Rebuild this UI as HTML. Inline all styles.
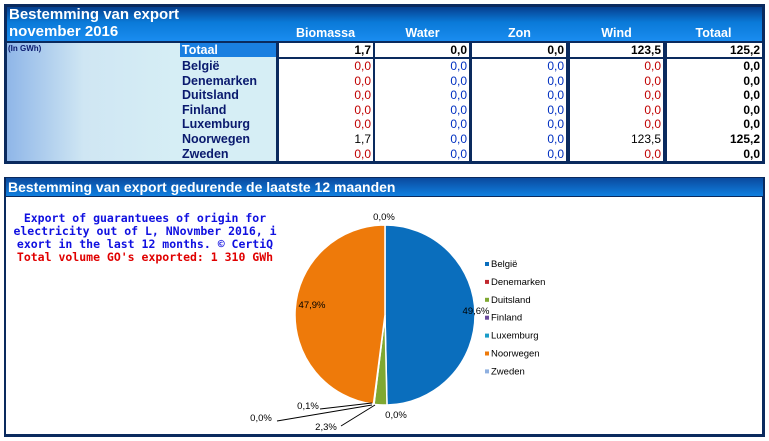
<!DOCTYPE html>
<html><head><meta charset="utf-8"><style>
body{margin:0;width:769px;height:441px;background:#fff;position:relative;overflow:hidden;font-family:"Liberation Sans",Arial,sans-serif}
.abs{position:absolute}
.hdr{color:#fff;font-weight:bold}
.cell{position:absolute;text-align:right;font-size:12px;line-height:14.6px;height:14.6px;box-sizing:border-box;padding-right:2px}
.cn{position:absolute;left:182px;font-size:12.5px;font-weight:bold;color:#0a1a6e;line-height:14.6px}
</style></head><body>
<div class="abs" style="left:4px;top:4px;width:761px;height:160px;background:#0a2a5e"></div>
<div class="abs" style="left:7px;top:7px;width:755px;height:34px;background:linear-gradient(#063f8e,#0a7ad8 45%,#1a8cf0)"></div>
<div class="abs hdr" style="left:9px;top:6px;font-size:15px;line-height:17px">Bestemming van export<br>november 2016</div>
<div class="abs hdr" style="left:277px;width:97px;top:26px;text-align:center;font-size:12.5px">Biomassa</div>
<div class="abs hdr" style="left:374px;width:97px;top:26px;text-align:center;font-size:12.5px">Water</div>
<div class="abs hdr" style="left:471px;width:97px;top:26px;text-align:center;font-size:12.5px">Zon</div>
<div class="abs hdr" style="left:568px;width:97px;top:26px;text-align:center;font-size:12.5px">Wind</div>
<div class="abs hdr" style="left:665px;width:97px;top:26px;text-align:center;font-size:12.5px">Totaal</div>
<div class="abs" style="left:7px;top:43px;width:170px;height:118px;background:linear-gradient(90deg,#8fb6e8,#cfe6f3 45%,#d6eef5)"></div>
<div class="abs" style="left:8px;top:44px;font-size:8px;font-weight:bold;color:#0a1a6e">(In GWh)</div>
<div class="abs" style="left:177px;top:43px;width:99px;height:118px;background:#d6eef5"></div>
<div class="abs" style="left:180px;top:43px;width:96px;height:14px;background:#1a7fe0"></div>
<div class="abs hdr" style="left:182px;top:43px;font-size:12.5px;line-height:14px">Totaal</div>
<div id="tbl"></div>
<div class="abs" style="left:4px;top:177px;width:761px;height:260px;background:#0a2a5e"></div>
<div class="abs" style="left:6px;top:178px;width:757px;height:18px;background:linear-gradient(#0a4a9e,#1080e0)"></div>
<div class="abs hdr" style="left:8px;top:179px;font-size:14px;line-height:16px">Bestemming van export gedurende de laatste 12 maanden</div>
<div class="abs" style="left:6px;top:197px;width:756px;height:237px;background:#fff"></div>
<div class="abs" style="left:10px;top:212px;width:270px;text-align:center;font-family:'DejaVu Sans Mono','Liberation Mono',monospace;font-weight:bold;font-size:11.5px;line-height:13px;color:#1010e0">Export of guarantuees of origin for electricity out of L, NNovmber 2016, i exort in the last 12 months. © CertiQ<br><span style="color:#e00000">Total volume GO's exported: 1 310 GWh</span></div>
<svg id="pie" class="abs" style="left:0;top:0" width="769" height="441"></svg>
<script>
const countries=["België","Denemarken","Duitsland","Finland","Luxemburg","Noorwegen","Zweden"];
const biomassa=[0,0,0,0,0,1.7,0];
const water=[0,0,0,0,0,0,0];
const zon=[0,0,0,0,0,0,0];
const wind=[0,0,0,0,0,123.5,0];
const totals=[1.7,0,0,123.5,125.2];
const shares=[49.6,0,2.3,0,0.1,47.9,0];
const colors=["#0a6ebd","#c0282e","#7fa832","#6a4a9c","#1a9cc8","#ee7a0a","#8fb0e0"];
const fmt=v=>v.toFixed(1).replace('.',',');
const tbl=document.getElementById('tbl');
const colX=[279,375,472,570,667],colW=[94,94,94,93,95];
const mk=(x,y,w,txt,style,name)=>{const d=document.createElement('div');d.className='cell';d.style.cssText=`left:${x}px;top:${y}px;width:${w}px;${style}`;d.textContent=txt;


tbl.appendChild(d);};
totals.forEach((v,i)=>mk(colX[i],43,colW[i],fmt(v),'background:#fff;font-weight:bold;color:#000;height:14px;line-height:14px','total-'+i));
colX.forEach((x,i)=>mk(x,59,colW[i],'','background:#fff;height:102px','col-bg-'+i));
countries.forEach((c,r)=>{const y=59+r*14.6;
const n=document.createElement('div');n.className='cn';n.style.top=y+'px';n.textContent=c;


tbl.appendChild(n);
const vals=[biomassa[r],water[r],zon[r],wind[r],biomassa[r]+water[r]+zon[r]+wind[r]];
const cols=['#c00000','#0030c0','#0030c0','#c00000','#000'];
vals.forEach((v,i)=>{let col=cols[i];if(v>0&&i<4)col='#000';mk(colX[i],y,colW[i],fmt(v),`color:${col};${i==4?'font-weight:bold;':''}`,'value-'+r+'-'+i);});
});
const svg=document.getElementById('pie');const NS='http://www.w3.org/2000/svg';
const cx=385,cy=315,R=90;
const total=shares.reduce((a,b)=>a+b,0);
let a0=-Math.PI/2;
const pt=(a,r)=>[cx+r*Math.cos(a),cy+r*Math.sin(a)];
shares.forEach((s,i)=>{const a1=a0+s/total*2*Math.PI;
if(s>0){const p0=pt(a0,R),p1=pt(a1,R);const large=(a1-a0)>Math.PI?1:0;
const p=document.createElementNS(NS,'path');
p.setAttribute('d',`M${cx},${cy}L${p0[0]},${p0[1]}A${R},${R} 0 ${large} 1 ${p1[0]},${p1[1]}Z`);
p.setAttribute('fill',colors[i]);p.setAttribute('stroke','#fff');p.setAttribute('stroke-width','1.5');


svg.appendChild(p);}
a0=a1;});
const labels=[[476,314,'49,6%'],[384,220,'0,0%'],[396,418,'0,0%'],[326,430,'2,3%'],[308,409,'0,1%'],[261,421,'0,0%'],[312,308,'47,9%']];
labels.forEach(l=>{const t=document.createElementNS(NS,'text');t.setAttribute('x',l[0]);t.setAttribute('y',l[1]);t.setAttribute('text-anchor','middle');t.setAttribute('font-size','9.5');t.setAttribute('font-family','Liberation Sans,sans-serif');t.textContent=l[2];


svg.appendChild(t);});
[['M320,409L372,403'],['M277,421L372,405'],['M341,426L375,405']].forEach(d=>{const p=document.createElementNS(NS,'path');p.setAttribute('d',d[0]);p.setAttribute('stroke','#000');p.setAttribute('fill','none');


svg.appendChild(p);});
countries.forEach((c,i)=>{const y=267+i*17.9;
const r=document.createElementNS(NS,'rect');r.setAttribute('x',485);r.setAttribute('y',y-5);r.setAttribute('width',4);r.setAttribute('height',4);r.setAttribute('fill',colors[i]);


svg.appendChild(r);
const t=document.createElementNS(NS,'text');t.setAttribute('x',491);t.setAttribute('y',y);t.setAttribute('font-size','9.5');t.setAttribute('font-family','Liberation Sans,sans-serif');t.textContent=c;


svg.appendChild(t);});
</script>
</body></html>
